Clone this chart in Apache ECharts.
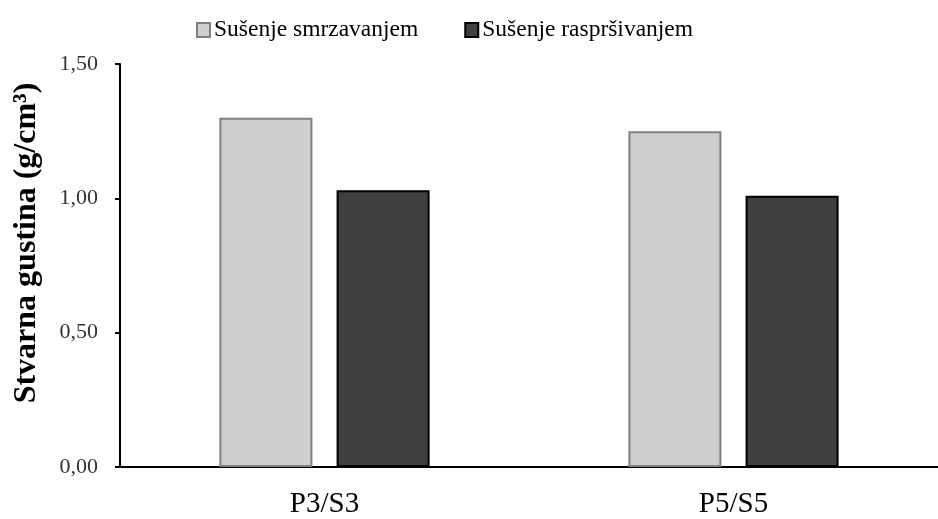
<!DOCTYPE html>
<html>
<head>
<meta charset="utf-8">
<script src="https://cdn.jsdelivr.net/npm/echarts@6/dist/echarts.min.js"></script>
<style>html,body{margin:0;padding:0;background:#fff}#c{width:938px;height:519px}</style>
</head>
<body>
<div id="c"></div>
<script>
const categories = ['P3/S3', 'P5/S5'];
const seriesNames = ['Sušenje smrzavanjem', 'Sušenje raspršivanjem'];
const freezeDried = [1.30, 1.25];
const sprayDried = [1.03, 1.01];
const yTicks = [0, 0.5, 1.0, 1.5];
const yAxisTitle = 'Stvarna gustina (g/cm³)';

const FONT = '"Liberation Serif", "Times New Roman", serif';
const chart = echarts.init(document.getElementById('c'), null, {renderer: 'canvas'});
chart.setOption({
  animation: false,
  backgroundColor: '#fff',
  legend: {
    left: 191, top: 13,
    icon: 'rect',
    itemWidth: 13, itemHeight: 14, itemGap: 46,
    textStyle: {fontFamily: FONT, fontSize: 23.5, color: '#000', padding: [0,0,0,-1]},
    data: seriesNames
  },
  grid: {left: 120, right: -3, top: 64, bottom: 50, containLabel: false},
  xAxis: {
    type: 'category', data: categories,
    axisLine: {lineStyle: {color: '#000', width: 2}},
    axisTick: {show: false},
    axisLabel: {fontFamily: FONT, fontSize: 29, color: '#000', margin: 23}
  },
  yAxis: {
    type: 'value', min: yTicks[0], max: yTicks[yTicks.length-1], interval: 0.5,
    axisLine: {show: true, lineStyle: {color: '#000', width: 2}},
    axisTick: {show: true, length: 5, lineStyle: {color: '#000', width: 2}},
    splitLine: {show: false},
    axisLabel: {fontFamily: FONT, fontSize: 22, color: '#333', margin: 22,
      formatter: v => v.toFixed(2).replace('.', ',')}
  },
  graphic: [{
    type: 'text', x: 27, y: 243, rotation: Math.PI / 2,
    style: {text: yAxisTitle, fontFamily: FONT, fontSize: 32, fontWeight: 'bold', fill: '#000',
      textAlign: 'center', textVerticalAlign: 'middle'}
  }],
  series: [
    {name: seriesNames[0], type: 'bar', data: freezeDried, barWidth: 93, barGap: '26%',
     itemStyle: {color: '#d0cecf', borderColor: '#808080', borderWidth: 2}},
    {name: seriesNames[1], type: 'bar', data: sprayDried, barWidth: 93,
     itemStyle: {color: '#404040', borderColor: '#000', borderWidth: 2}}
  ]
});
</script>
</body>
</html>
